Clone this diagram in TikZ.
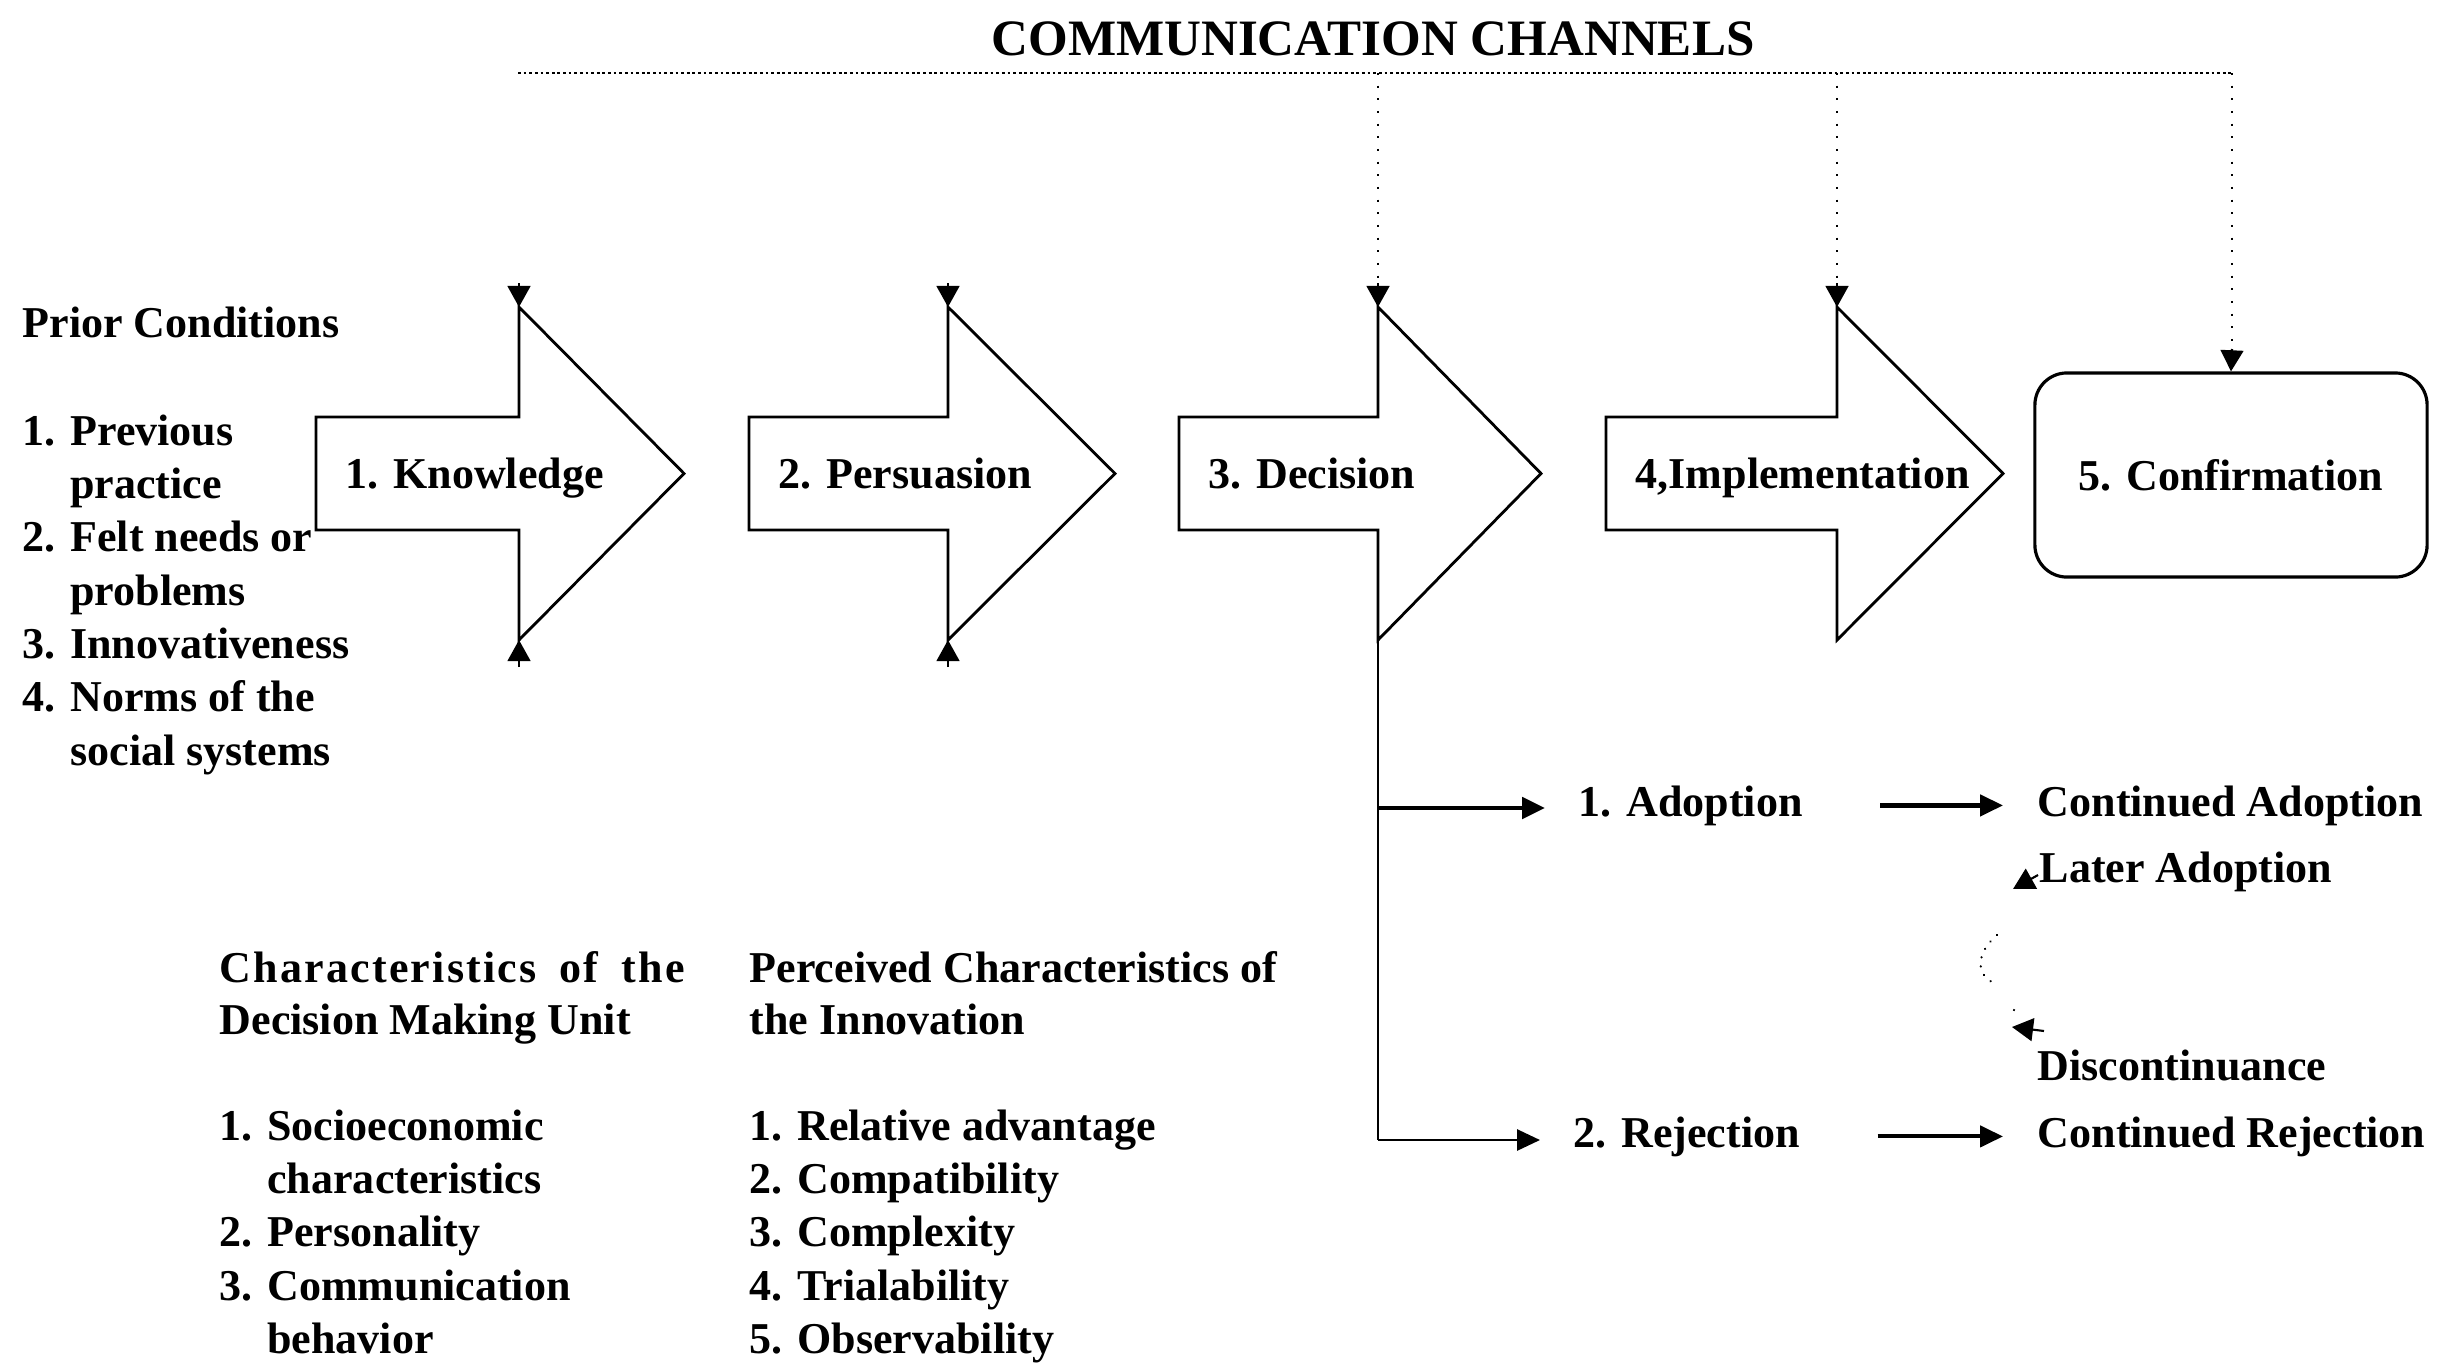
\documentclass[tikz,border=0pt]{standalone}
\usepackage{fontspec}
\setmainfont{Liberation Serif}
\usetikzlibrary{arrows.meta}
\tikzset{
  blk/.style={draw, line width=0.8pt, line join=miter},
  lbl/.style={inner sep=0pt, font=\bfseries\fontsize{12.52}{15}\selectfont},
  tri/.style={-{Triangle[length=6pt,width=6.5pt]}, line width=0.6pt},
  chanh/.style={line width=0.8pt, dash pattern=on 0.8pt off 0.8pt},
  chanv/.style={line width=0.6pt, dash pattern=on 0.6pt off 3pt},
  thinline/.style={line width=0.6pt},
  outarrow/.style={-{Triangle[length=6.5pt,width=6pt]}},
  faint/.style={line width=0.7pt, line cap=round, dash pattern=on 0.01pt off 2.6pt},
}
\newcommand{\blockarrow}[5]{%
  \draw[blk] (#2,417) -- (#3,417) -- (#3,307) -- (#4,473.5) -- (#3,640) -- (#3,530) -- (#2,530) -- cycle;
  \coordinate (#1top) at (#3,307);
  \coordinate (#1bot) at (#3,640);
  \node[lbl, anchor=base west] (#1) at (#2+29,488) {#5};
}
\begin{document}
\begin{tikzpicture}[x=0.01cm,y=-0.01cm]
\useasboundingbox (0,0) rectangle (2448,1363);

% title and channel bracket
\node[inner sep=0pt, anchor=base, font=\bfseries\fontsize{14.51}{17}\selectfont] (title) at (1373,55) {COMMUNICATION CHANNELS};
\coordinate (chA) at (518,73);
\coordinate (chD) at (1378,73);
\coordinate (chI) at (1837,73);
\coordinate (chC) at (2232,73);
\draw[chanh] (chA) -- (chC);

% stage arrows
\blockarrow{know}{316}{519}{684}{1. Knowledge}
\blockarrow{pers}{749}{948}{1115}{2. Persuasion}
\blockarrow{deci}{1179}{1378}{1541}{3. Decision}
\blockarrow{impl}{1606}{1837}{2003}{4,Implementation}
\node[draw, line width=0.9pt, rounded corners=0.32cm, minimum width=3.92cm, minimum height=2.04cm, inner sep=0pt,
      font=\bfseries\fontsize{12.52}{15}\selectfont] (conf) at (2231,475) {5. Confirmation};

% channel verticals and small triangles
\coordinate (dA) at (1378,283);
\coordinate (iA) at (1837,283);
\coordinate (cA) at (2232,349);
\draw[chanv] (chD) -- (dA);
\draw[chanv] (chI) -- (iA);
\draw[chanv] (chC) -- (cA);
\draw[tri] (519,283) -- (knowtop);
\draw[tri] (948,283) -- (perstop);
\draw[tri] (dA) -- (decitop);
\draw[tri] (iA) -- (impltop);
\draw[tri] (cA) -- (conf.north);
\draw[tri] (519,667) -- (knowbot);
\draw[tri] (948,667) -- (persbot);

% prior conditions
\node[lbl, anchor=base west] (prior) at (22,337) {Prior Conditions};
\foreach \t [count=\i from 0] in {1. Previous, \phantom{1. }practice, 2. Felt needs or, \phantom{1. }problems, 3. Innovativeness, 4. Norms of the, \phantom{1. }social systems}
  \node[lbl, anchor=base west] (pc\i) at (22,445+53.35*\i) {\t};

% characteristics of decision making unit
\node[lbl, anchor=base west] (dmuA) at (219,982) {\addfontfeature{LetterSpace=5}\makebox[4.65cm][s]{Characteristics of the}};
\node[lbl, anchor=base west] (dmuB) at (219,1034) {Decision Making Unit};
\foreach \t [count=\i from 0] in {1. Socioeconomic, \phantom{1. }characteristics, 2. Personality, 3. Communication, \phantom{1. }behavior}
  \node[lbl, anchor=base west] (dm\i) at (219,1140+53.4*\i) {\t};

% perceived characteristics
\node[lbl, anchor=base west] (pciA) at (749,982) {Perceived Characteristics of};
\node[lbl, anchor=base west] (pciB) at (749,1034) {the Innovation};
\foreach \t [count=\i from 0] in {1. Relative advantage, 2. Compatibility, 3. Complexity, 4. Trialability, 5. Observability}
  \node[lbl, anchor=base west] (pi\i) at (749,1140+53.4*\i) {\t};

% outcomes
\node[lbl, anchor=base west] (adopt) at (1578,816) {1. Adoption};
\node[lbl, anchor=base west] (reject) at (1573,1147) {2. Rejection};
\node[lbl, anchor=base west] (cadopt) at (2037,816) {Continued Adoption};
\node[lbl, anchor=base west] (later) at (2039,882) {Later Adoption};
\node[lbl, anchor=base west] (disc) at (2037,1080) {Discontinuance};
\node[lbl, anchor=base west] (creject) at (2037,1147) {Continued Rejection};

\coordinate (brA) at (1378,808);
\coordinate (brR) at (1378,1140);
\draw[thinline] (decibot) -- (brR);
\draw[outarrow, line width=1.3pt, shorten >=0.33cm] (brA) -- (brA -| adopt.west);
\draw[outarrow, thinline, shorten >=0.33cm] (brR) -- (brR -| reject.west);
\draw[outarrow, line width=1.2pt, shorten <=0.77cm, shorten >=0.34cm] (adopt.east) -- (cadopt.west);
\draw[outarrow, line width=1.1pt, shorten <=0.77cm, shorten >=0.34cm] (reject.east) -- (creject.west);

% faint arrows at later adoption / discontinuance
\draw[tri] (2038,875) -- (2013,889);
\draw[tri] (2044,1031) -- (2012,1027);
\draw[faint] (1997,935) .. controls (1974,955) and (1978,975) .. (1992,982);
\draw[faint] (2014,1010) -- (2018,1018);
\end{tikzpicture}
\end{document}
